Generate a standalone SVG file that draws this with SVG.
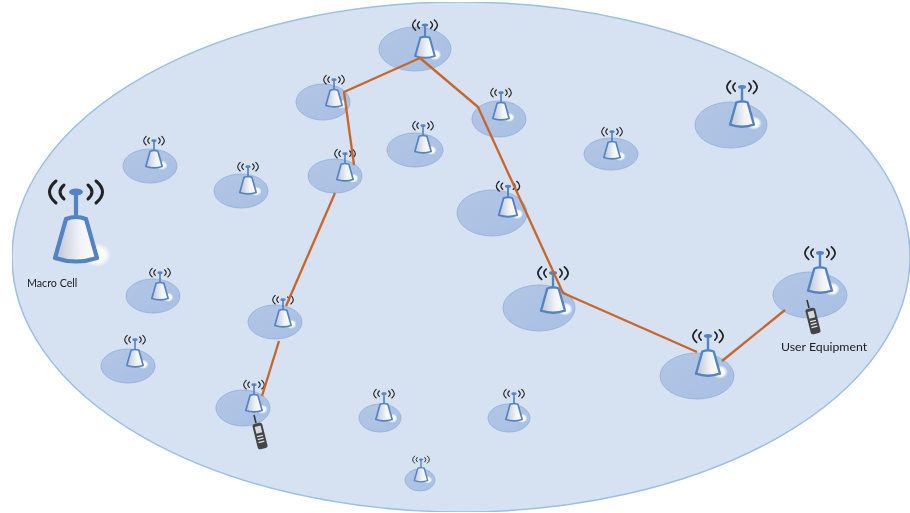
<svg xmlns="http://www.w3.org/2000/svg" width="910" height="513" viewBox="0 0 910 513">
<style>
.cell{fill:url(#cg);stroke:#8fb0d8;stroke-width:.8}
.hl{fill:url(#hg)}
.arc{fill:none;stroke:#222;stroke-width:3;stroke-linecap:round}
.b{stroke:#5383c3;fill:none;stroke-linejoin:round;stroke-width:4.200}
.link{fill:none;stroke:#c8662a;stroke-width:2.300;stroke-linejoin:round}
.lbl{font-family:"Lato","Open Sans","Liberation Sans",sans-serif;fill:#222}
</style>
<defs>
<filter id="soft" x="0" y="0" width="100%" height="100%"><feGaussianBlur stdDeviation=".45"/></filter>
<radialGradient id="hg"><stop offset="0" stop-color="#fff"/><stop offset=".6" stop-color="#fff" stop-opacity=".9"/><stop offset="1" stop-color="#fff" stop-opacity="0"/></radialGradient>
<linearGradient id="cg" x1="0" x2="1" y1="0" y2="1"><stop offset="0" stop-color="#b2c6e6"/><stop offset="1" stop-color="#a9c0e3"/></linearGradient>
<linearGradient id="tg" x1="0" x2="1" y1="0" y2="0"><stop offset="0" stop-color="#bcc5d3"/><stop offset=".6" stop-color="#f0f3f8"/><stop offset="1" stop-color="#fff"/></linearGradient>
<g id="tower">
<ellipse class="hl" cx="21" cy="-7" rx="14" ry="12"/>
<path d="M-10 -43 L10 -43 L21 -4 Q0 3 -21 -4 Z" fill="url(#tg)"/>
<path class="b" d="M-10 -43 Q0 -47 10 -43 L21 -4 Q0 3 -21 -4 Z"/>
<path class="b" d="M0 -44 V-70"/>
<ellipse cx="0" cy="-70" rx="7" ry="3.500" fill="#5383c3"/>
<path class="arc" d="M-12 -77 Q-20 -70 -12 -63M12 -77 Q20 -70 12 -63M-20 -81 Q-33 -70 -20 -59M20 -81 Q33 -70 20 -59"/>
</g>
<g id="phone">
<path d="M-4 -13 L-6 -21" stroke="#333" stroke-width="1.600"/>
<rect x="-5" y="-13" width="10" height="26" rx="2.500" fill="#444" transform="rotate(-14)"/>
<rect x="-3" y="-10" width="6" height="7" fill="#d5d9e0" transform="rotate(-14)"/>
<path d="M-3 0H3M-3 3H3M-3 6H3" stroke="#e4e4e4" stroke-width="1.300" transform="rotate(-14)"/>
</g>
</defs>
<g filter="url(#soft)">
<ellipse cx="461" cy="257" rx="449" ry="255" fill="#d6e1f2" stroke="#9cc0e4" stroke-width="1.500"/>
<g id="macro-cell"><use href="#tower" transform="translate(76 262)"/><text class="lbl" x="27" y="287" font-size="10.700">Macro Cell</text></g>
<g id="n1"><ellipse class="cell" cx="415" cy="49" rx="36" ry="22"/><use href="#tower" transform="translate(425 58) scale(.47)"/></g>
<g id="n2"><ellipse class="cell" cx="323" cy="102" rx="27" ry="18"/><use href="#tower" transform="translate(334 107) scale(.39)"/></g>
<g id="n3"><ellipse class="cell" cx="499" cy="119" rx="27" ry="18"/><use href="#tower" transform="translate(501 120) scale(.39)"/></g>
<g id="n4"><ellipse class="cell" cx="415" cy="150" rx="28" ry="17"/><use href="#tower" transform="translate(423 153) scale(.39)"/></g>
<g id="n5"><ellipse class="cell" cx="731" cy="125" rx="36" ry="23"/><use href="#tower" transform="translate(742 127) scale(.57)"/></g>
<g id="n6"><ellipse class="cell" cx="611" cy="154" rx="27" ry="16"/><use href="#tower" transform="translate(612 159) scale(.39)"/></g>
<g id="n7"><ellipse class="cell" cx="150" cy="166" rx="27" ry="17"/><use href="#tower" transform="translate(154 168) scale(.39)"/></g>
<g id="n8"><ellipse class="cell" cx="241" cy="191" rx="27" ry="17"/><use href="#tower" transform="translate(248 194) scale(.39)"/></g>
<g id="n9"><ellipse class="cell" cx="335" cy="176" rx="27" ry="17"/><use href="#tower" transform="translate(345 181) scale(.39)"/></g>
<g id="n10"><ellipse class="cell" cx="492" cy="213" rx="35" ry="23"/><use href="#tower" transform="translate(508 217) scale(.44)"/></g>
<g id="n11"><ellipse class="cell" cx="153" cy="296" rx="27" ry="17"/><use href="#tower" transform="translate(160 300) scale(.39)"/></g>
<g id="n12"><ellipse class="cell" cx="539" cy="308" rx="36" ry="23"/><use href="#tower" transform="translate(553 313) scale(.57)"/></g>
<g id="n13"><ellipse class="cell" cx="810" cy="295" rx="37" ry="23"/><use href="#tower" transform="translate(820 293) scale(.57)"/></g>
<g id="n14"><ellipse class="cell" cx="275" cy="322" rx="27" ry="17"/><use href="#tower" transform="translate(283 327) scale(.39)"/></g>
<g id="n15"><ellipse class="cell" cx="128" cy="366" rx="27" ry="17"/><use href="#tower" transform="translate(135 367) scale(.39)"/></g>
<g id="n16"><ellipse class="cell" cx="697" cy="376" rx="37" ry="23"/><use href="#tower" transform="translate(708 376) scale(.57)"/></g>
<g id="n17"><ellipse class="cell" cx="243" cy="408" rx="27" ry="18"/><use href="#tower" transform="translate(254 412) scale(.39)"/></g>
<g id="n18"><ellipse class="cell" cx="380" cy="418" rx="21" ry="14"/><use href="#tower" transform="translate(384 421) scale(.39)"/></g>
<g id="n19"><ellipse class="cell" cx="509" cy="418" rx="21" ry="14"/><use href="#tower" transform="translate(514 421) scale(.39)"/></g>
<g id="n20"><ellipse class="cell" cx="420" cy="480" rx="15" ry="11"/><use href="#tower" transform="translate(421 482) scale(.32)"/></g>
<g id="ue1"><use href="#phone" transform="translate(260 436)"/></g>
<g id="ue2"><use href="#phone" transform="translate(813 321)"/><text class="lbl" x="781" y="351" font-size="12.300">User Equipment</text></g>
<g id="connectors">
<path class="link" d="M262 396L279 341"/>
<path class="link" d="M286 306L335 193"/>
<path class="link" d="M354 165L344 92L420 58L478 107L563 293L697 352"/>
<path class="link" d="M722 361L785 310"/>
</g>
</g>
</svg>
